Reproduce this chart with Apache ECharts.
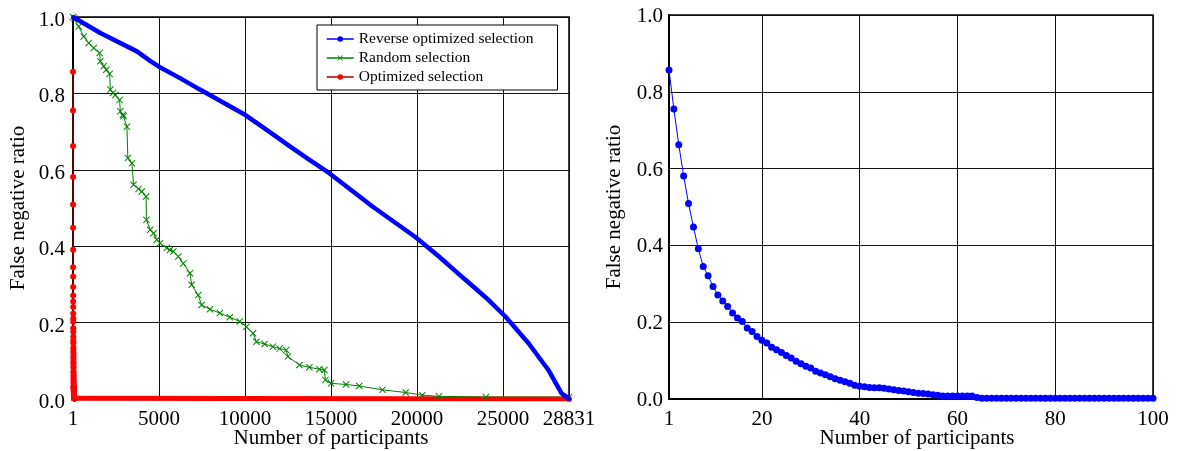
<!DOCTYPE html>
<html><head><meta charset="utf-8">
<script src="https://cdn.jsdelivr.net/npm/echarts@6/dist/echarts.min.js"></script>
<style>html,body{margin:0;padding:0;background:#fff}#c{width:1178px;height:451px}</style>
</head><body><div id="c"></div>
<script>
// ---- Left chart: false negative ratio vs number of participants (1..28831)
const reverseX = [1, 1590, 3715, 4485, 5000, 6220, 7380, 10000, 11240, 12590, 13745, 14900, 17410, 19900, 21270, 22810, 24160, 25130, 26480, 27630, 28400, 28831];
const reverseY = [1.0, 0.958, 0.910, 0.885, 0.870, 0.840, 0.810, 0.744, 0.705, 0.662, 0.626, 0.591, 0.504, 0.424, 0.373, 0.312, 0.259, 0.216, 0.146, 0.076, 0.015, 0.0];

const randomX = [1, 87, 336, 625, 915, 1205, 1550, 1590, 1785, 1940, 2130, 2170, 2325, 2460, 2710, 2750, 2905, 2940, 3135, 3190, 3425, 3520, 3810, 4000, 4250, 4270, 4490, 4680, 4870, 5060, 5450, 5640, 5835, 6125, 6410, 6800, 6900, 7280, 7475, 7960, 8535, 9115, 9690, 10080, 10465, 10660, 11140, 11620, 12010, 12395, 12490, 13165, 13740, 14320, 14610, 14670, 15000, 15870, 16640, 17990, 19340, 20300, 21270, 24000, 28831];
const randomY = [1.0, 0.997, 0.975, 0.949, 0.932, 0.919, 0.906, 0.884, 0.871, 0.862, 0.851, 0.810, 0.801, 0.796, 0.783, 0.753, 0.744, 0.740, 0.713, 0.631, 0.617, 0.561, 0.550, 0.543, 0.530, 0.469, 0.443, 0.434, 0.417, 0.408, 0.395, 0.390, 0.386, 0.373, 0.355, 0.329, 0.299, 0.272, 0.246, 0.235, 0.225, 0.214, 0.203, 0.189, 0.172, 0.150, 0.144, 0.137, 0.132, 0.128, 0.111, 0.089, 0.083, 0.078, 0.076, 0.050, 0.041, 0.038, 0.034, 0.024, 0.017, 0.010, 0.007, 0.005, 0.005];

// ---- Right chart (first 100 participants, optimized selection)
const rightValues = [0.857, 0.755, 0.662, 0.581, 0.509, 0.448, 0.391, 0.345, 0.321, 0.293,
  0.271, 0.255, 0.241, 0.224, 0.211, 0.202, 0.185, 0.176, 0.163, 0.153,
  0.146, 0.135, 0.128, 0.121, 0.113, 0.107, 0.098, 0.092, 0.085, 0.081,
  0.072, 0.068, 0.063, 0.058, 0.053, 0.049, 0.045, 0.041, 0.036, 0.033,
  0.032, 0.030, 0.029, 0.029, 0.028, 0.026, 0.024, 0.022, 0.021, 0.019,
  0.017, 0.015, 0.014, 0.013, 0.011, 0.010, 0.008, 0.008, 0.008, 0.008,
  0.008, 0.008, 0.008, 0.004, 0.002, 0.002, 0.002, 0.002, 0.002, 0.002,
  0.002, 0.002, 0.002, 0.002, 0.002, 0.002, 0.002, 0.002, 0.002, 0.002,
  0.002, 0.002, 0.002, 0.002, 0.002, 0.002, 0.002, 0.002, 0.002, 0.002,
  0.002, 0.002, 0.002, 0.002, 0.002, 0.002, 0.002, 0.002, 0.002, 0.002];
const totalParticipants = 28831;
const optimizedTail = [[totalParticipants, 0.0]];

const seriesNames = ['Reverse optimized selection', 'Random selection', 'Optimized selection'];
const yTicks = ['0.0', '0.2', '0.4', '0.6', '0.8', '1.0'];
const axisNames = { x: 'Number of participants', y: 'False negative ratio' };

const BLUE = '#0000ff', GREEN = '#008000', RED = '#ff0000';
const FONT = 'Liberation Serif';
const xSym = 'path://M0,1 L1,0 L5,4 L9,0 L10,1 L6,5 L10,9 L9,10 L5,6 L1,10 L0,9 L4,5 Z';

const zip = (xs, ys) => xs.map((x, i) => [x, ys[i]]);
const rightData = rightValues.map((v, i) => [i + 1, v]);
const optimizedData = rightData.concat(optimizedTail);
// flat (near-zero) part of the optimized curve, drawn as a dense band
const optimizedFlat = optimizedData.filter(p => p[1] <= 0.002);

function xAxisCfg(grid, min, max, pad) {
  return {
    type: 'value', gridIndex: grid, min: min, max: max, splitNumber: 5,
    name: axisNames.x, nameLocation: 'middle', nameGap: 29, nameMoveOverlap: false,
    nameTextStyle: { fontFamily: FONT, fontSize: 21, color: '#000', padding: [0, 0, 0, pad] },
    axisLine: { show: true, onZero: false, lineStyle: { color: '#000', width: 2 } },
    axisTick: { show: false },
    axisLabel: { fontFamily: FONT, fontSize: 21, color: '#000', margin: 10, showMaxLabel: true, showMinLabel: true,
      formatter: v => String(Math.round(v)) },
    splitLine: { show: true, lineStyle: { color: '#111', width: 1 } }
  };
}
function yAxisCfg(grid, margin, shift) {
  return {
    type: 'value', gridIndex: grid, min: 0, max: 1, interval: 0.2,
    name: axisNames.y, nameLocation: 'middle', nameGap: 44, nameMoveOverlap: false,
    nameTextStyle: { fontFamily: FONT, fontSize: 21, color: '#000' },
    axisLine: { show: true, lineStyle: { color: '#000', width: 2 } },
    axisTick: { show: false },
    axisLabel: { margin: margin,
      formatter: v => '{t|' + yTicks[Math.round(v * 5)] + '}',
      rich: { t: { fontFamily: FONT, fontSize: 21, color: '#000', padding: [shift, 0, 0, 0] } } },
    splitLine: { show: true, lineStyle: { color: '#111', width: 1 } }
  };
}

const chart = echarts.init(document.getElementById('c'), null, { renderer: 'canvas' });
chart.setOption({
  animation: false,
  backgroundColor: '#fff',
  grid: [
    { left: 73, top: 17, width: 496, height: 382, show: true, borderColor: '#000', borderWidth: 1.5,
      containLabel: false, outerBoundsMode: 'none' },
    { left: 669, top: 15, width: 484, height: 384, show: true, borderColor: '#000', borderWidth: 1.5,
      containLabel: false, outerBoundsMode: 'none' }
  ],
  xAxis: [xAxisCfg(0, 1, totalParticipants, 20), xAxisCfg(1, 1, 100, 12)],
  yAxis: [yAxisCfg(0, 8, 7), yAxisCfg(1, 6, 3)],
  legend: {
    data: seriesNames, orient: 'vertical', left: 317, top: 25,
    padding: [6, 24, 5, 9], itemGap: 3, itemWidth: 27, itemHeight: 7,
    borderColor: '#000', borderWidth: 1, backgroundColor: '#fff',
    textStyle: { fontFamily: FONT, fontSize: 15.5, color: '#000' },
    lineStyle: { width: 1.5 }
  },
  series: [
    { name: seriesNames[0], type: 'line', xAxisIndex: 0, yAxisIndex: 0, z: 4,
      data: zip(reverseX, reverseY), symbol: 'circle', symbolSize: 4, showAllSymbol: true,
      lineStyle: { color: BLUE, width: 4.5 }, itemStyle: { color: BLUE } },
    { name: seriesNames[1], type: 'line', xAxisIndex: 0, yAxisIndex: 0, z: 3,
      data: zip(randomX, randomY), symbol: xSym, symbolSize: 7, showAllSymbol: true,
      lineStyle: { color: GREEN, width: 1 }, itemStyle: { color: GREEN } },
    { name: seriesNames[2], type: 'line', xAxisIndex: 0, yAxisIndex: 0, z: 2,
      data: optimizedData, symbol: 'circle', symbolSize: 6, showAllSymbol: true,
      lineStyle: { color: '#a00000', width: 1.2 }, itemStyle: { color: RED } },
    { name: seriesNames[2], type: 'line', xAxisIndex: 0, yAxisIndex: 0, z: 2,
      data: optimizedFlat, symbol: 'none',
      lineStyle: { color: RED, width: 5 }, itemStyle: { color: RED } },
    { name: 'right', type: 'line', xAxisIndex: 1, yAxisIndex: 1, z: 4,
      data: rightData, symbol: 'circle', symbolSize: 7, showAllSymbol: true,
      lineStyle: { color: BLUE, width: 1 }, itemStyle: { color: BLUE } }
  ]
});
</script></body></html>
